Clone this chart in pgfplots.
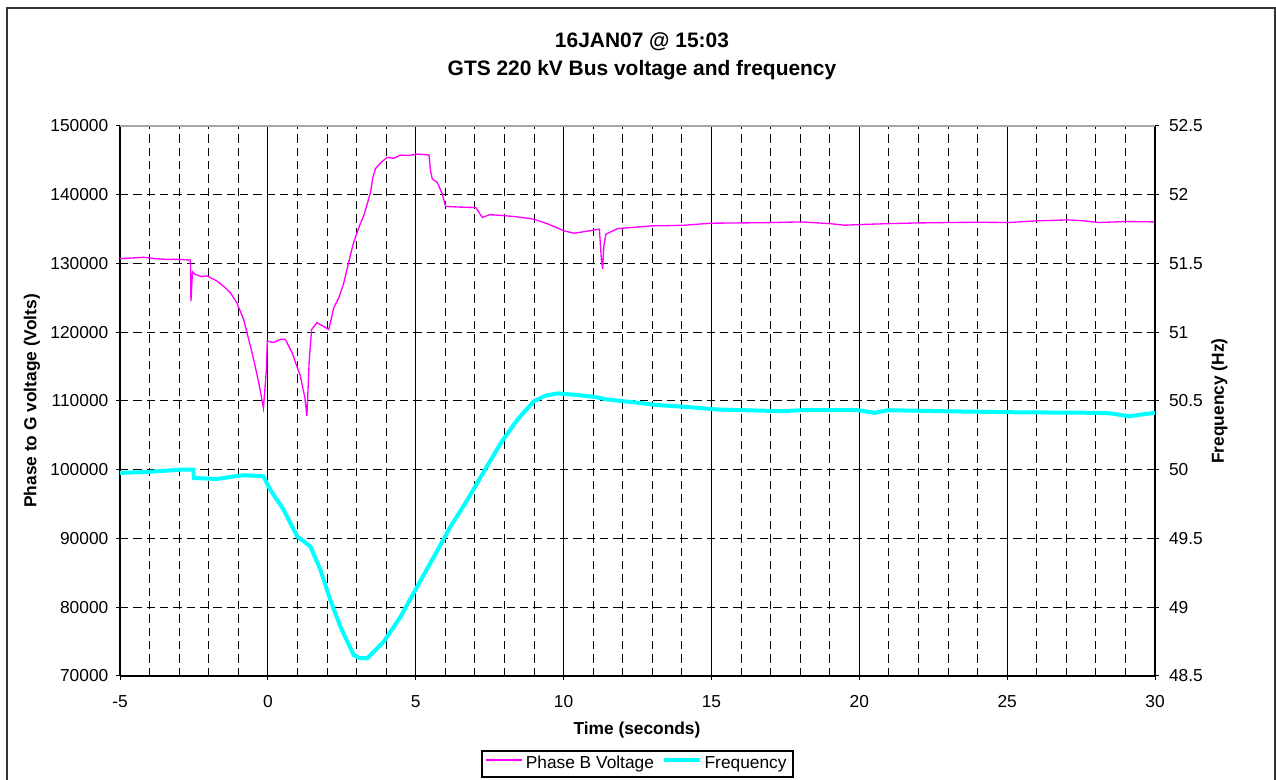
\documentclass[border=0pt]{standalone}
\usepackage{fontspec}
\setmainfont{Liberation Sans}
\usepackage{pgfplots}
\pgfplotsset{compat=1.18}
\definecolor{mag}{RGB}{255,0,255}
\definecolor{cyn}{RGB}{0,255,255}
\pgfplotsset{
  common/.style={
    at={(90pt,78pt)}, anchor=south west, scale only axis,
    width=776.25pt, height=412.5pt,
    xmin=-5, xmax=30,
    scaled x ticks=false, scaled y ticks=false,
    tick align=center, major tick length=6pt, minor tick length=0pt,
    tick style={black, line width=0.75pt},
    axis line style={black, line width=1pt},
  }
}
\begin{document}
\begin{tikzpicture}[x=1pt,y=1pt]
\path[use as bounding box] (0,0) rectangle (957,585);
\begin{axis}[common,
  ymin=70000, ymax=150000,
  xtick={-5,0,5,10,15,20,25,30}, minor x tick num=4,
  xticklabels={-5,0,5,10,15,20,25,30},
  ytick={70000,80000,90000,100000,110000,120000,130000,140000,150000},
  yticklabels={70000,80000,90000,100000,110000,120000,130000,140000,150000},
  axis x line*=bottom, axis y line*=left,
  grid=both,
  major x grid style={black, line width=0.9pt},
  minor x grid style={black, line width=0.75pt, dash pattern=on 6.25pt off 3.75pt},
  major y grid style={black, line width=0.75pt, dash pattern=on 6.25pt off 3.75pt},
  yticklabel style={font=\fontsize{13}{15}\selectfont, xshift=-2.25pt},
  xticklabel style={font=\fontsize{13}{15}\selectfont, yshift=-8pt},
]
\addplot[mag, line width=1pt] coordinates {
(-5.0,130700) (-4.6,130800) (-4.2,130900) (-3.8,130700) (-3.4,130600) (-3.0,130600)
(-2.62,130500) (-2.60,124500) (-2.55,128800) (-2.45,128400) (-2.25,128100) (-2.06,128200)
(-1.72,127450) (-1.45,126500) (-1.27,125760) (-1.05,124300) (-0.82,121870) (-0.65,119000)
(-0.48,116040) (-0.30,112500) (-0.15,109000) (-0.05,114500) (-0.02,118700) (0.19,118500)
(0.42,118960) (0.59,118960) (0.82,117020) (1.10,113610) (1.25,110500) (1.32,107800)
(1.40,116000) (1.48,120400) (1.66,121390) (1.90,120800) (2.06,120400) (2.23,123580)
(2.40,125000) (2.57,127220) (2.75,130500) (2.90,133050) (3.10,135500) (3.24,136930)
(3.35,138500) (3.47,140330) (3.55,142500) (3.64,143800) (3.85,144800) (4.04,145430)
(4.25,145300) (4.49,145770) (4.75,145700) (5.05,145920) (5.45,145780) (5.50,143500)
(5.56,142300) (5.73,141790) (5.90,140080) (6.01,138300) (6.5,138200) (7.03,138140)
(7.25,136700) (7.5,137100) (7.88,137000) (8.4,136800) (9.0,136440) (9.5,135700)
(10.02,134740) (10.36,134400) (10.8,134700) (11.21,134990) (11.28,130500) (11.32,129200)
(11.36,132500) (11.43,134260) (11.83,135080) (12.5,135300) (12.96,135470) (13.5,135500)
(14.09,135570) (14.99,135860) (16.0,135900) (17.0,135950) (18.04,136050) (19.0,135800)
(19.51,135570) (20.07,135670) (21.0,135800) (22.0,135900) (23.01,135960) (24.0,136000)
(25.05,135960) (26.0,136200) (27.08,136340) (27.6,136200) (28.10,135960) (29.0,136100)
(30.0,136050)
};
\end{axis}
\begin{axis}[common,
  ymin=48.5, ymax=52.5,
  ytick={48.5,49,49.5,50,50.5,51,51.5,52,52.5},
  yticklabels={48.5,49,49.5,50,50.5,51,51.5,52,52.5},
  axis y line*=right, axis x line=none,
  yticklabel style={font=\fontsize{13}{15}\selectfont, xshift=4pt},
  legend style={at={(0.5,-0.16)}, anchor=center, draw=black, line width=1.2pt,
    font=\fontsize{13}{15}\selectfont,
    nodes={text depth=0.25em},
    /tikz/every even column/.append style={column sep=4pt}},
  legend columns=2,
  legend image code/.code={\draw[#1] (0pt,0.3em) -- (27pt,0.3em);},
]
\addlegendimage{mag, line width=1pt}
\addlegendentry{Phase B Voltage}
\addplot[cyn, line width=3pt] coordinates {
(-5,49.977) (-4,49.985) (-3,50.0) (-2.52,50.0) (-2.50,49.94) (-1.72,49.933) (-1.2,49.95)
(-0.82,49.96) (-0.15,49.952) (0.08,49.855) (0.53,49.71) (0.99,49.515) (1.44,49.442)
(1.78,49.27) (2.11,49.054) (2.45,48.86) (2.90,48.653) (3.1,48.63) (3.36,48.629)
(3.6,48.68) (3.92,48.75) (4.49,48.932) (5.05,49.15) (5.62,49.369) (6.18,49.588)
(6.75,49.782) (7.31,49.988) (7.88,50.195) (8.44,50.365) (9.0,50.499) (9.4,50.54)
(9.80,50.555) (10.4,50.545) (11.04,50.53) (11.5,50.51) (12.39,50.49) (13.2,50.47)
(14.09,50.458) (15.22,50.438) (17.36,50.426) (18.04,50.433) (19.96,50.433) (20.52,50.414)
(20.98,50.433) (23,50.425) (25.27,50.418) (27.98,50.414) (28.5,50.41) (29.11,50.389)
(30,50.414)
};
\addlegendentry{Frequency}
\end{axis}
\draw[gray!70, line width=1pt] (90,490.5) -- (866.25,490.5);
\draw[black!80, line width=1.2pt] (5.25,0) -- (5.25,579) -- (956.25,579) -- (956.25,0);
\node[font=\bfseries\fontsize{15.7}{18}\selectfont] at (481.5,553.5) {16JAN07 @ 15:03};
\node[font=\bfseries\fontsize{15.7}{18}\selectfont] at (481.5,532.5) {GTS 220 kV Bus voltage and frequency};
\node[font=\bfseries\fontsize{13}{15}\selectfont] at (477.75,37.5) {Time (seconds)};
\node[font=\bfseries\fontsize{13}{15}\selectfont, rotate=90] at (24,284.25) {Phase to G voltage (Volts)};
\node[font=\bfseries\fontsize{13}{15}\selectfont, rotate=90] at (914.5,284.25) {Frequency (Hz)};
\end{tikzpicture}
\end{document}
